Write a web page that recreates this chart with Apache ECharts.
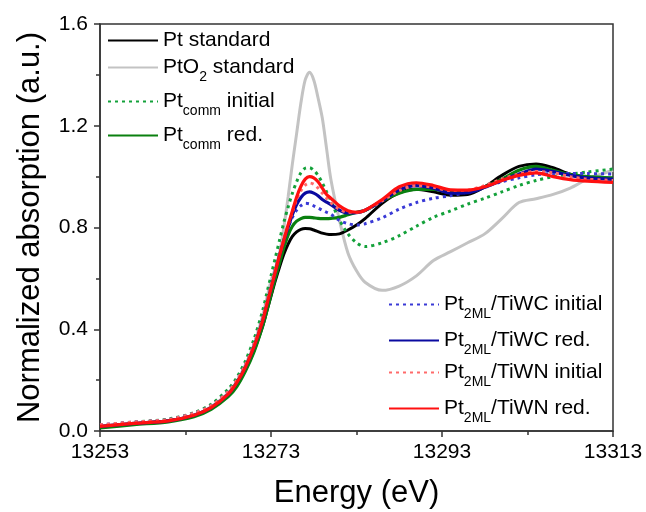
<!DOCTYPE html>
<html>
<head>
<meta charset="utf-8">
<script src="https://cdn.jsdelivr.net/npm/echarts@6/dist/echarts.min.js"></script>
<style>
html,body{margin:0;padding:0;background:#fff;}
#chart{width:646px;height:512px;}
</style>
</head>
<body>
<div id="chart"></div>
<script>
// Energy grid (eV)
var energy = [13253, 13257, 13261, 13264, 13266, 13268, 13269, 13270, 13271, 13272,
  13272.5, 13273, 13273.5, 13274, 13274.5, 13275, 13275.5, 13276, 13276.5, 13277, 13277.5, 13278, 13278.5, 13279, 13279.5, 13280,
  13281, 13282, 13283,
  13284, 13286, 13288, 13290, 13292, 13294, 13296, 13298, 13300, 13302, 13304, 13306, 13308, 13310, 13313];

var ptStandard = [0.015, 0.028, 0.04, 0.06, 0.09, 0.14, 0.18, 0.24, 0.315, 0.41,
  0.47, 0.53, 0.59, 0.645, 0.695, 0.735, 0.765, 0.783, 0.793, 0.796, 0.795, 0.79, 0.784, 0.778, 0.774, 0.772,
  0.775, 0.79, 0.81,
  0.835, 0.895, 0.937, 0.95, 0.94, 0.927, 0.93, 0.96, 1.005, 1.04, 1.05, 1.035, 1.01, 0.998, 0.99];

var ptO2Standard = [0.015, 0.028, 0.04, 0.062, 0.095, 0.15, 0.195, 0.26, 0.34, 0.45,
  0.52, 0.59, 0.64, 0.70, 0.80, 0.92, 1.05, 1.17, 1.29, 1.38, 1.41, 1.38, 1.31, 1.23, 1.11, 0.99,
  0.83, 0.70, 0.63,
  0.585, 0.553, 0.57, 0.61, 0.67, 0.705, 0.74, 0.775, 0.835, 0.898, 0.913, 0.93, 0.955, 0.99, 1.025];

var ptCommInitial = [0.022, 0.035, 0.047, 0.072, 0.105, 0.165, 0.21, 0.275, 0.36, 0.47,
  0.54, 0.61, 0.68, 0.75, 0.82, 0.88, 0.935, 0.98, 1.015, 1.033, 1.035, 1.025, 1.005, 0.975, 0.94, 0.905,
  0.83, 0.775, 0.74,
  0.725, 0.74, 0.768, 0.805, 0.84, 0.865, 0.892, 0.915, 0.94, 0.965, 0.985, 1.0, 1.01, 1.018, 1.03];

var ptCommRed = [0.012, 0.025, 0.036, 0.056, 0.085, 0.135, 0.175, 0.235, 0.31, 0.41,
  0.47, 0.535, 0.6, 0.66, 0.72, 0.77, 0.805, 0.825, 0.835, 0.84, 0.84, 0.838, 0.836, 0.835, 0.835, 0.836,
  0.84, 0.85, 0.86,
  0.867, 0.905, 0.935, 0.95, 0.95, 0.94, 0.94, 0.96, 0.99, 1.025, 1.04, 1.025, 1.008, 1.0, 0.995];

var twcInitial = [0.025, 0.035, 0.045, 0.07, 0.1, 0.155, 0.2, 0.26, 0.34, 0.44,
  0.505, 0.57, 0.635, 0.695, 0.75, 0.80, 0.84, 0.868, 0.886, 0.895, 0.893, 0.885, 0.877, 0.868, 0.86, 0.852,
  0.828, 0.815, 0.81,
  0.815, 0.838, 0.872, 0.898, 0.915, 0.925, 0.94, 0.96, 0.98, 0.995, 1.007, 1.012, 1.012, 1.012, 1.01];

var twcRed = [0.018, 0.03, 0.04, 0.062, 0.092, 0.145, 0.19, 0.25, 0.33, 0.43,
  0.495, 0.56, 0.625, 0.69, 0.75, 0.80, 0.85, 0.89, 0.918, 0.935, 0.94, 0.935, 0.925, 0.91, 0.9, 0.89,
  0.868, 0.857, 0.858,
  0.868, 0.905, 0.948, 0.965, 0.955, 0.935, 0.937, 0.958, 0.985, 1.01, 1.03, 1.02, 1.005, 0.995, 0.99];

var twnInitial = [0.025, 0.035, 0.045, 0.07, 0.1, 0.155, 0.2, 0.26, 0.34, 0.44,
  0.505, 0.57, 0.635, 0.695, 0.755, 0.81, 0.86, 0.91, 0.945, 0.967, 0.975, 0.97, 0.955, 0.935, 0.915, 0.897,
  0.872, 0.86, 0.86,
  0.868, 0.905, 0.945, 0.965, 0.958, 0.945, 0.947, 0.965, 0.99, 1.01, 1.02, 1.015, 1.0, 0.99, 0.985];

var twnRed = [0.018, 0.03, 0.04, 0.062, 0.092, 0.145, 0.19, 0.25, 0.33, 0.43,
  0.495, 0.56, 0.625, 0.69, 0.75, 0.81, 0.865, 0.92, 0.962, 0.99, 1.0, 0.995, 0.98, 0.955, 0.93, 0.915,
  0.885, 0.866, 0.86,
  0.868, 0.91, 0.96, 0.976, 0.965, 0.948, 0.947, 0.96, 0.985, 1.005, 1.015, 1.0, 0.988, 0.982, 0.977];

var xTicks = [13253, 13273, 13293, 13313];
var yTicks = [0.0, 0.4, 0.8, 1.2, 1.6];

var legendLabels = {
  'Pt standard': '{a|Pt standard}',
  'PtO2 standard': '{a|PtO}{s|2}{a| standard}',
  'Ptcomm initial': '{a|Pt}{s|comm}{a| initial}',
  'Ptcomm red.': '{a|Pt}{s|comm}{a| red.}',
  'Pt2ML/TiWC initial': '{a|Pt}{s|2ML}{a|/TiWC initial}',
  'Pt2ML/TiWC red.': '{a|Pt}{s|2ML}{a|/TiWC red.}',
  'Pt2ML/TiWN initial': '{a|Pt}{s|2ML}{a|/TiWN initial}',
  'Pt2ML/TiWN red.': '{a|Pt}{s|2ML}{a|/TiWN red.}'
};

var FONT = '"Liberation Sans", Arial, sans-serif';

function pairs(arr) { return energy.map(function (e, i) { return [e, arr[i]]; }); }

function mkSeries(name, arr, color, width, dotted) {
  return {
    name: name, type: 'line', data: pairs(arr), smooth: 0.3,
    symbol: 'circle', symbolSize: 0, showSymbol: false, clip: true,
    lineStyle: { color: color, width: width, type: dotted ? [3, 4] : 'solid' },
    itemStyle: { color: color },
    emphasis: { disabled: true }
  };
}

var series = [
  mkSeries('PtO2 standard', ptO2Standard, '#c3c3c3', 3, false),
  mkSeries('Pt standard', ptStandard, '#000000', 3, false),
  mkSeries('Ptcomm initial', ptCommInitial, '#13a13a', 3, true),
  mkSeries('Ptcomm red.', ptCommRed, '#0a800f', 3.2, false),
  mkSeries('Pt2ML/TiWC initial', twcInitial, '#3a3ad6', 3, true),
  mkSeries('Pt2ML/TiWC red.', twcRed, '#0a0aa0', 3.2, false),
  mkSeries('Pt2ML/TiWN initial', twnInitial, '#ff6a6a', 3, true),
  mkSeries('Pt2ML/TiWN red.', twnRed, '#ff1010', 3.2, false)
];

function mkLegend(name, left, centerY) {
  return {
    data: [name], left: left, top: centerY - 9, padding: 0,
    orient: 'vertical', itemWidth: 50, itemHeight: 14, itemGap: 0,
    selectedMode: false,
    itemStyle: { color: 'rgba(0,0,0,0)', borderWidth: 0, opacity: 0 },
    formatter: function (n) { return legendLabels[n]; },
    textStyle: {
      fontFamily: FONT, color: '#000',
      rich: {
        a: { fontSize: 21, lineHeight: 34, fontFamily: FONT, color: '#000' },
        s: { fontSize: 14, lineHeight: 14, verticalAlign: 'bottom', fontFamily: FONT, color: '#000' }
      }
    }
  };
}

var legends = [
  mkLegend('Pt standard', 107, 39),
  mkLegend('PtO2 standard', 107, 66),
  mkLegend('Ptcomm initial', 107, 100),
  mkLegend('Ptcomm red.', 107, 134),
  mkLegend('Pt2ML/TiWC initial', 388, 303),
  mkLegend('Pt2ML/TiWC red.', 388, 339),
  mkLegend('Pt2ML/TiWN initial', 388, 371),
  mkLegend('Pt2ML/TiWN red.', 388, 407)
];

var chart = echarts.init(document.getElementById('chart'), null, { renderer: 'canvas' });
chart.setOption({
  animation: false,
  backgroundColor: '#fff',
  grid: { left: 100, right: 33, top: 24, bottom: 81, containLabel: false, outerBoundsMode: 'none',
    show: true, borderColor: '#333', borderWidth: 1.5, backgroundColor: 'transparent' },
  legend: legends,
  xAxis: {
    type: 'value', min: xTicks[0], max: xTicks[xTicks.length - 1], interval: xTicks[1] - xTicks[0],
    name: 'Energy (eV)', nameLocation: 'middle', nameGap: 47,
    nameTextStyle: { fontFamily: FONT, fontSize: 31, color: '#000' },
    axisLine: { show: true, onZero: false, lineStyle: { color: '#333', width: 1.5 } },
    axisTick: { show: true, inside: false, length: 6, lineStyle: { color: '#333', width: 1.5 } },
    minorTick: { show: true, splitNumber: 2, length: 4, lineStyle: { color: '#333', width: 1.5 } },
    splitLine: { show: false },
    axisLabel: { fontFamily: FONT, fontSize: 21, color: '#000', margin: 11, showMinLabel: true, showMaxLabel: true,
      formatter: function (v) { return String(Math.round(v)); } }
  },
  yAxis: {
    type: 'value', min: yTicks[0], max: yTicks[yTicks.length - 1], interval: yTicks[1] - yTicks[0],
    name: 'Normalized absorption (a.u.)', nameLocation: 'middle', nameGap: 54,
    nameTextStyle: { fontFamily: FONT, fontSize: 31, color: '#000' },
    axisLine: { show: true, onZero: false, lineStyle: { color: '#333', width: 1.5 } },
    axisTick: { show: true, inside: false, length: 6, lineStyle: { color: '#333', width: 1.5 } },
    minorTick: { show: true, splitNumber: 2, length: 4, lineStyle: { color: '#333', width: 1.5 } },
    splitLine: { show: false },
    axisLabel: { fontFamily: FONT, fontSize: 21, color: '#000', margin: 12,
      formatter: function (v) { return v.toFixed(1); } }
  },
  series: series
});
</script>
</body>
</html>
